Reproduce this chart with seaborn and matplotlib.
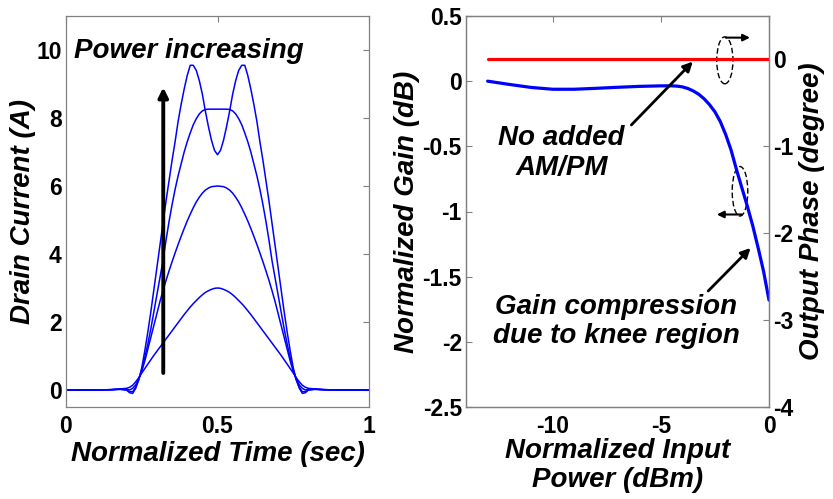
import numpy as np
import pandas as pd
import matplotlib
matplotlib.use("Agg")
import matplotlib.pyplot as plt
from matplotlib.patches import Ellipse
import seaborn as sns

# ---------------- data ----------------
t = [0, 0.05, 0.10, 0.15, 0.18,
     0.20, 0.21, 0.22, 0.23, 0.24, 0.25, 0.26, 0.27, 0.28, 0.29,
     0.30, 0.31, 0.32, 0.33, 0.34, 0.35, 0.36, 0.37, 0.38, 0.39,
     0.40, 0.41, 0.42, 0.43, 0.44, 0.45, 0.46, 0.47, 0.48, 0.49,
     0.50, 0.51, 0.52, 0.53, 0.54, 0.55, 0.56, 0.57, 0.58, 0.59,
     0.60, 0.61, 0.62, 0.63, 0.64, 0.65, 0.66, 0.67, 0.68, 0.69,
     0.70, 0.71, 0.72, 0.73, 0.74, 0.75, 0.76, 0.77, 0.78, 0.79,
     0.80, 0.82, 0.85, 0.90, 0.95, 1.0]

current_a = [0, 0, 0, 0.01, 0.03, 0.05, 0.08, 0.14, 0.24, 0.36, 0.5, 0.63, 0.76, 0.89, 1.02,
             1.14, 1.26, 1.38, 1.5, 1.62, 1.74, 1.86, 1.98, 2.1, 2.22, 2.33, 2.44, 2.54, 2.63,
             2.72, 2.8, 2.87, 2.92, 2.96, 2.99, 3.0,
             2.99, 2.96, 2.92, 2.87, 2.8, 2.72, 2.63, 2.54, 2.44, 2.33, 2.22, 2.1, 1.98, 1.86,
             1.74, 1.62, 1.5, 1.38, 1.26, 1.14, 1.02, 0.89, 0.76, 0.63, 0.5, 0.36, 0.24, 0.14,
             0.08, 0.05, 0.03, 0.01, 0, 0, 0]
current_b = [0, 0, 0, 0.01, 0.03, 0.02, 0.0, 0.05, 0.15, 0.32, 0.55, 0.85, 1.2, 1.55, 1.9,
             2.25, 2.6, 2.92, 3.22, 3.5, 3.77, 4.03, 4.28, 4.52, 4.75, 4.97, 5.17, 5.36, 5.53,
             5.67, 5.79, 5.88, 5.94, 5.98, 5.99, 6.0,
             5.99, 5.98, 5.94, 5.88, 5.79, 5.67, 5.53, 5.36, 5.17, 4.97, 4.75, 4.52, 4.28, 4.03,
             3.77, 3.5, 3.22, 2.92, 2.6, 2.25, 1.9, 1.55, 1.2, 0.85, 0.55, 0.32, 0.15, 0.05,
             0.0, 0.02, 0.03, 0.01, 0, 0, 0]
current_c = [0, 0, 0, 0.01, 0.02, 0.0, -0.05, -0.05, 0.08, 0.3, 0.6, 0.95, 1.35, 1.8, 2.3,
             2.8, 3.3, 3.8, 4.4, 4.95, 5.45, 5.9, 6.3, 6.65, 7.0, 7.3, 7.56, 7.8, 7.98,
             8.12, 8.21, 8.25, 8.26, 8.26, 8.26, 8.26,
             8.26, 8.26, 8.26, 8.25, 8.21, 8.12, 7.98, 7.8, 7.56, 7.3, 7.0, 6.65, 6.3, 5.9,
             5.45, 4.95, 4.4, 3.8, 3.3, 2.8, 2.3, 1.8, 1.35, 0.95, 0.6, 0.3, 0.08, -0.05,
             -0.05, 0.0, 0.02, 0.01, 0, 0, 0]
current_d = [0, 0, 0, 0.01, 0.02, 0.0, -0.08, -0.1, 0.05, 0.3, 0.65, 1.15, 1.7, 2.3, 2.95,
             3.6, 4.25, 4.9, 5.55, 6.15, 6.75, 7.3, 7.9, 8.4, 8.85, 9.25, 9.55, 9.55, 9.4,
             9.1, 8.7, 8.2, 7.75, 7.35, 7.05, 6.92,
             7.05, 7.35, 7.75, 8.2, 8.7, 9.1, 9.4, 9.55, 9.55, 9.25, 8.85, 8.4, 7.9, 7.3,
             6.75, 6.15, 5.55, 4.9, 4.25, 3.6, 2.95, 2.3, 1.7, 1.15, 0.65, 0.3, 0.05, -0.1,
             -0.08, 0.0, 0.02, 0.01, 0, 0, 0]

pin = [-13, -12, -11, -10, -9, -8, -7, -6, -5, -4.5, -4.25, -4, -3.75, -3.5, -3.25,
       -3, -2.75, -2.5, -2.25, -2, -1.75, -1.5, -1.25, -1, -0.75, -0.5, -0.25, 0]
gain = [0.0, -0.025, -0.048, -0.062, -0.062, -0.055, -0.047, -0.04, -0.036, -0.036,
        -0.038, -0.044, -0.056, -0.075, -0.10, -0.135, -0.18, -0.235, -0.31, -0.41,
        -0.53, -0.68, -0.82, -0.96, -1.11, -1.28, -1.46, -1.68]
pin_phase = [-13, 0]
phase = [0, 0]

left_xticks = [0, 0.5, 1]
left_xticklabels = ["0", "0.5", "1"]
left_yticks = [0, 2, 4, 6, 8, 10]
gain_ticks = [0.5, 0, -0.5, -1, -1.5, -2, -2.5]
gain_ticklabels = ["0.5", "0", "-0.5", "-1", "-1.5", "-2", "-2.5"]
pin_ticks = [-10, -5, 0]
phase_ticks = [0, -1, -2, -3, -4]

# ---------------- style ----------------
sns.set_theme(style="white")
plt.rcParams["font.family"] = ["Liberation Sans", "DejaVu Sans"]
plt.rcParams["axes.unicode_minus"] = False
plt.rcParams["text.color"] = "black"
plt.rcParams["axes.labelcolor"] = "black"
plt.rcParams["xtick.color"] = "black"
plt.rcParams["ytick.color"] = "black"

FRAME = "#808080"
TICKFONT = dict(fontsize=16.5, fontweight="bold", color="black")
LABELFONT = dict(fontsize=20, fontweight="bold", fontstyle="italic", color="black")

fig = plt.figure(figsize=(8.33, 4.99), dpi=100)
ax1 = fig.add_axes([66 / 833, 92 / 499, 303 / 833, 391 / 499])
ax2 = fig.add_axes([466 / 833, 92 / 499, 303 / 833, 391 / 499])
ax3 = ax2.twinx()

# ---------------- left plot ----------------
df = pd.concat([
    pd.DataFrame({"t": t, "I": vals, "curve": name})
    for name, vals in [("a", current_a), ("b", current_b), ("c", current_c), ("d", current_d)]
])
sns.lineplot(data=df, x="t", y="I", units="curve", estimator=None, color="#0000ff",
             lw=1.1, ax=ax1, legend=False)
ax1.set_xlim(0, 1)
ax1.set_ylim(-0.5, 11)
ax1.set_xticks(left_xticks)
ax1.set_xticklabels(left_xticklabels, **TICKFONT)
ax1.set_yticks(left_yticks)
ax1.set_yticklabels([str(v) for v in left_yticks], **TICKFONT)
ax1.set_xlabel("Normalized Time (sec)", labelpad=2, **LABELFONT)
ax1.set_ylabel("Drain Current (A)", labelpad=0, **LABELFONT)
ax1.tick_params(axis="both", direction="in", length=4, width=0.8, color=FRAME,
                top=True, right=True)
ax1.tick_params(axis="x", pad=6)
ax1.tick_params(axis="y", pad=3)
for s in ax1.spines.values():
    s.set_color(FRAME)
    s.set_linewidth(0.9)

ax1.annotate("", xy=(0.321, 8.9), xytext=(0.321, 0.5),
             arrowprops=dict(arrowstyle="-|>", color="black", lw=2.8, mutation_scale=14,
                             shrinkA=0, shrinkB=0))
ax1.text(0.026, 9.76, "Power increasing", ha="left", va="baseline", **LABELFONT)

# ---------------- right plot ----------------
sns.lineplot(x=pin, y=gain, color="#0000ff", lw=2.3, ax=ax2)
sns.lineplot(x=pin_phase, y=phase, color="#ff0000", lw=2.3, ax=ax3)

ax2.set_xlim(-14, 0)
ax2.set_ylim(-2.5, 0.5)
ax3.set_ylim(-4, 0.5)
ax2.set_xticks(pin_ticks)
ax2.set_xticklabels([str(v) for v in pin_ticks], **TICKFONT)
ax2.set_yticks(gain_ticks)
ax2.set_yticklabels(gain_ticklabels, **TICKFONT)
ax3.set_yticks(phase_ticks)
ax3.set_yticklabels([str(v) for v in phase_ticks], **TICKFONT)
ax2.set_xlabel("Normalized Input\nPower (dBm)", labelpad=0, linespacing=1.15, **LABELFONT)
ax2.set_ylabel("Normalized Gain (dB)", labelpad=2, **LABELFONT)
ax3.set_ylabel("Output Phase (degree)", labelpad=4, **LABELFONT)
ax2.tick_params(axis="both", direction="in", length=4, width=0.8, color=FRAME,
                top=True, right=False)
ax2.tick_params(axis="x", pad=6)
ax2.tick_params(axis="y", pad=3)
ax3.tick_params(axis="y", direction="in", length=4, width=0.8, color=FRAME, pad=3)
for a in (ax2, ax3):
    for s in a.spines.values():
        s.set_color(FRAME)
        s.set_linewidth(0.9)

# annotations on gain axes (data coords)
ax2.text(-9.58, -0.553, "No added\nAM/PM", ha="center", va="center",
         linespacing=1.2, **LABELFONT)
ax2.annotate("", xy=(-3.52, 0.15), xytext=(-6.36, -0.336),
             arrowprops=dict(arrowstyle="-|>", color="black", lw=2.0, mutation_scale=14,
                             shrinkA=0, shrinkB=0))
ax2.text(-7.05, -1.843, "Gain compression\ndue to knee region", ha="center", va="center",
         linespacing=1.15, **LABELFONT)
ax2.annotate("", xy=(-0.85, -1.28), xytext=(-2.81, -1.61),
             arrowprops=dict(arrowstyle="-|>", color="black", lw=2.0, mutation_scale=14,
                             shrinkA=0, shrinkB=0))

ax2.add_patch(Ellipse((-2.04, 0.16), 0.75, 0.36, fill=False, ls=(0, (4, 2)),
                      lw=1.0, edgecolor="black"))
ax2.annotate("", xy=(-0.88, 0.334), xytext=(-2.0, 0.334),
             arrowprops=dict(arrowstyle="-|>", color="black", lw=1.5, mutation_scale=10,
                             shrinkA=0, shrinkB=0))
ax2.add_patch(Ellipse((-1.34, -0.845), 0.72, 0.38, fill=False, ls=(0, (4, 2)),
                      lw=1.0, edgecolor="black"))
ax2.annotate("", xy=(-2.41, -1.023), xytext=(-1.25, -1.023),
             arrowprops=dict(arrowstyle="-|>", color="black", lw=1.5, mutation_scale=10,
                             shrinkA=0, shrinkB=0))

fig.savefig("out.png", dpi=100)
